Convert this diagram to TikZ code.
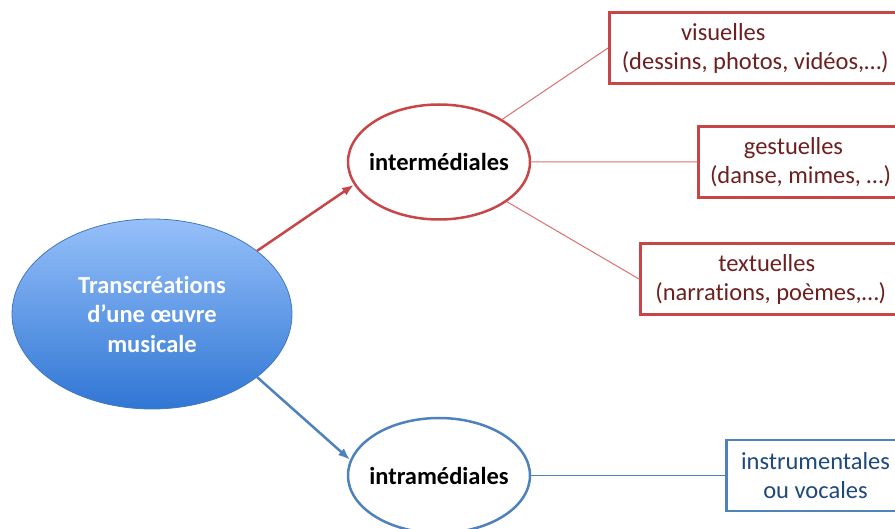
\documentclass[tikz,border=0pt]{standalone}
\usepackage{fontspec}
\setmainfont{Carlito}[Ligatures=NoCommon]
\usetikzlibrary{positioning, arrows.meta, shapes.geometric}
\definecolor{redline}{RGB}{200,70,72}
\definecolor{redthin}{RGB}{222,110,110}
\definecolor{redtext}{RGB}{110,32,32}
\definecolor{blueline}{RGB}{79,129,189}
\definecolor{bluetext}{RGB}{31,73,125}
\definecolor{roottop}{RGB}{150,192,250}
\definecolor{rootbottom}{RGB}{48,118,212}
\definecolor{rootborder}{RGB}{70,120,190}
\tikzset{root node/.style={ellipse, draw=rootborder, line width=0.8pt, top color=roottop, bottom color=rootbottom, minimum width=280pt, minimum height=190pt, text=white, align=center, font=\bfseries\fontsize{24.5}{29.5}\selectfont},
	main node/.style={ellipse, draw, fill=white, line width=2.5pt, minimum width=182pt, minimum height=115pt, inner xsep=-20pt, font=\bfseries\fontsize{24.5}{29}\selectfont},
	leaf node/.style={rectangle, draw, fill=white, line width=2.5pt, anchor=west, align=center, minimum height=71pt, inner ysep=2pt, font=\fontsize{24.5}{29}\selectfont},}

\begin{document}
\begin{tikzpicture}[x=1pt, y=1pt]
		\useasboundingbox (0,0) rectangle (895,528);
		\clip (0,0) rectangle (895,528);
		% Ellipses
		\node[root node] (trans) at (152,214) {Transcréations\\d’une œuvre\\musicale};
		\node[main node, draw=redline] (inter) at (439,366) {intermédiales};
		\node[main node, draw=blueline] [below = 196pt of inter] (intra) {intramédiales};
		% Boxes
		\node[leaf node, draw=redline, text=redtext, minimum width=292pt] (vis) at (608,480) {visuelles\rule{64pt}{0pt}\\(dessins, photos, vidéos,…)};
		\node[leaf node, draw=redline, text=redtext, minimum width=204pt] [right = 166pt of inter] (gest) {gestuelles\rule{14pt}{0pt}\\(danse, mimes, …)};
		\node[leaf node, draw=redline, text=redtext, minimum width=261pt] (text) at (639,249) {textuelles\rule{8pt}{0pt}\\(narrations, poèmes,…)};
		\node[leaf node, draw=blueline, text=bluetext, minimum width=178pt] [right = 194pt of intra] (instr) {instrumentales\\ou vocales};
		% Arrows
		\draw[line width=2.5pt, redline, -{Latex[length=12pt, width=9pt]}] (trans.31) -- (inter.195);
		\draw[line width=2.5pt, blueline, -{Latex[length=12pt, width=9pt]}] (trans.-31) -- (intra.170);
		% Links
		\path[draw, redthin, line width=1pt]
		(inter) -- (vis.west)
		(inter) -- (gest.west)
		(inter) -- (text.west);
		\draw[blueline, line width=1pt] (intra) -- (instr.west);
	\end{tikzpicture}
\end{document}
